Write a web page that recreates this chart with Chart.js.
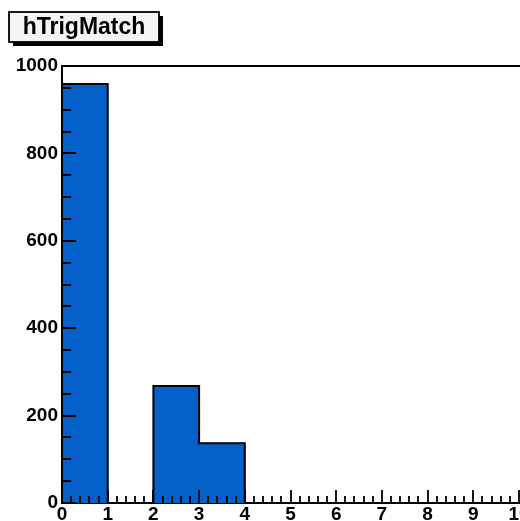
<!DOCTYPE html>
<html>
<head>
<meta charset="utf-8">
<script src="https://cdn.jsdelivr.net/npm/chart.js@4"></script>
<style>
  html, body { margin: 0; padding: 0; background: #fff; }
  #wrap { width: 520px; height: 521px; position: relative; }
</style>
</head>
<body>
<div id="wrap"><canvas id="hTrigMatch"></canvas></div>
<script>
/* hTrigMatch histogram data
---------------------------- */
var histTitle = 'hTrigMatch';
var binEdges = [0, 1, 2, 3, 4, 5, 6, 7, 8, 9, 10];
var binCounts = [959, 0, 268, 137, 0, 0, 0, 0, 0, 0];
var xTickLabels = [0, 1, 2, 3, 4, 5, 6, 7, 8, 9, 10];
var yTickLabels = [0, 200, 400, 600, 800, 1000];

var fillColor = '#0561c9';
var labelFont = { family: 'Liberation Sans', weight: 'bold', size: 19 };

// bars at bin centres, outline as a step line along the bin edges
var barPoints = binCounts.map(function (v, i) {
  return { x: (binEdges[i] + binEdges[i + 1]) / 2, y: v };
});
var outline = [{ x: binEdges[0], y: 0 }];
binCounts.forEach(function (v, i) {
  outline.push({ x: binEdges[i], y: v });
  outline.push({ x: binEdges[i + 1], y: v });
});
outline.push({ x: binEdges[binEdges.length - 1], y: 0 });

// ROOT style ticks pointing into the frame, plus the title box
var rootDecor = {
  id: 'rootDecor',
  afterDraw: function (chart) {
    var ctx = chart.ctx, area = chart.chartArea;
    var xs = chart.scales.x, ys = chart.scales.y;
    ctx.save();
    ctx.strokeStyle = '#000';
    ctx.lineWidth = 2;
    ctx.beginPath();
    ctx.moveTo(area.left, area.bottom);
    ctx.lineTo(area.left, area.top);
    ctx.lineTo(area.right + 2, area.top);
    ctx.stroke();

    ctx.lineWidth = 1.8;
    ctx.beginPath();
    for (var k = 0; k <= 50; k++) {
      var xv = k * 0.2;
      var px = Math.round(xs.getPixelForValue(xv));
      var len = (k % 5 === 0) ? 13 : 7;
      ctx.moveTo(px, area.bottom);
      ctx.lineTo(px, area.bottom - len);
    }
    for (var j = 0; j <= 20; j++) {
      var yv = j * 50;
      var py = Math.round(ys.getPixelForValue(yv));
      var ylen = (j % 4 === 0) ? 14 : 9;
      ctx.moveTo(area.left, py);
      ctx.lineTo(area.left + ylen, py);
    }
    ctx.stroke();

    // title box with shadow
    var bx = 9, by = 12, bw = 150, bh = 30;
    ctx.fillStyle = '#000';
    ctx.fillRect(bx + 4, by + 4, bw, bh);
    ctx.fillStyle = '#f4f4f4';
    ctx.fillRect(bx, by, bw, bh);
    ctx.lineWidth = 1.8;
    ctx.strokeRect(bx, by, bw, bh);
    ctx.fillStyle = '#000';
    ctx.font = 'bold 23px "Liberation Sans"';
    ctx.textAlign = 'center';
    ctx.textBaseline = 'middle';
    ctx.fillText(histTitle, bx + bw / 2, by + bh / 2 + 1);
    ctx.restore();
  }
};

var ctx1 = document.getElementById('hTrigMatch');
var chart = new Chart(ctx1, {
  type: 'bar',
  data: {
    datasets: [{
      type: 'line',
      data: outline,
      borderColor: '#000',
      borderWidth: 2,
      pointRadius: 0,
      fill: false,
      tension: 0
    }, {
      data: barPoints,
      backgroundColor: fillColor,
      borderWidth: 0,
      barPercentage: 1,
      categoryPercentage: 1
    }]
  },
  plugins: [rootDecor],
  options: {
    responsive: true,
    maintainAspectRatio: false,
    animation: false,
    layout: { padding: { top: 66, right: 1, left: 0, bottom: 0 } },
    plugins: { legend: { display: false }, tooltip: { enabled: false } },
    scales: {
      x: {
        type: 'linear',
        min: 0,
        max: 10,
        offset: false,
        grid: { display: false, drawTicks: false },
        border: { display: true, color: '#000', width: 2 },
        afterBuildTicks: function (s) { s.ticks = xTickLabels.map(function (v) { return { value: v }; }); },
        afterFit: function (s) { s.height = 18; s.paddingLeft = 0; s.paddingRight = 0; },
        ticks: { color: '#000', font: labelFont, padding: 0, maxRotation: 0, autoSkip: false,
                 callback: function (v) { return String(v); } }
      },
      y: {
        min: 0,
        max: 1000,
        grid: { display: false, drawTicks: false },
        border: { display: true, color: '#000', width: 2 },
        afterBuildTicks: function (s) { s.ticks = yTickLabels.map(function (v) { return { value: v }; }); },
        afterFit: function (s) { s.width = 62; s.paddingTop = 0; s.paddingBottom = 0; },
        ticks: { color: '#000', font: labelFont, padding: 4,
                 callback: function (v) { return String(v); } }
      }
    }
  }
});
</script>
</body>
</html>
